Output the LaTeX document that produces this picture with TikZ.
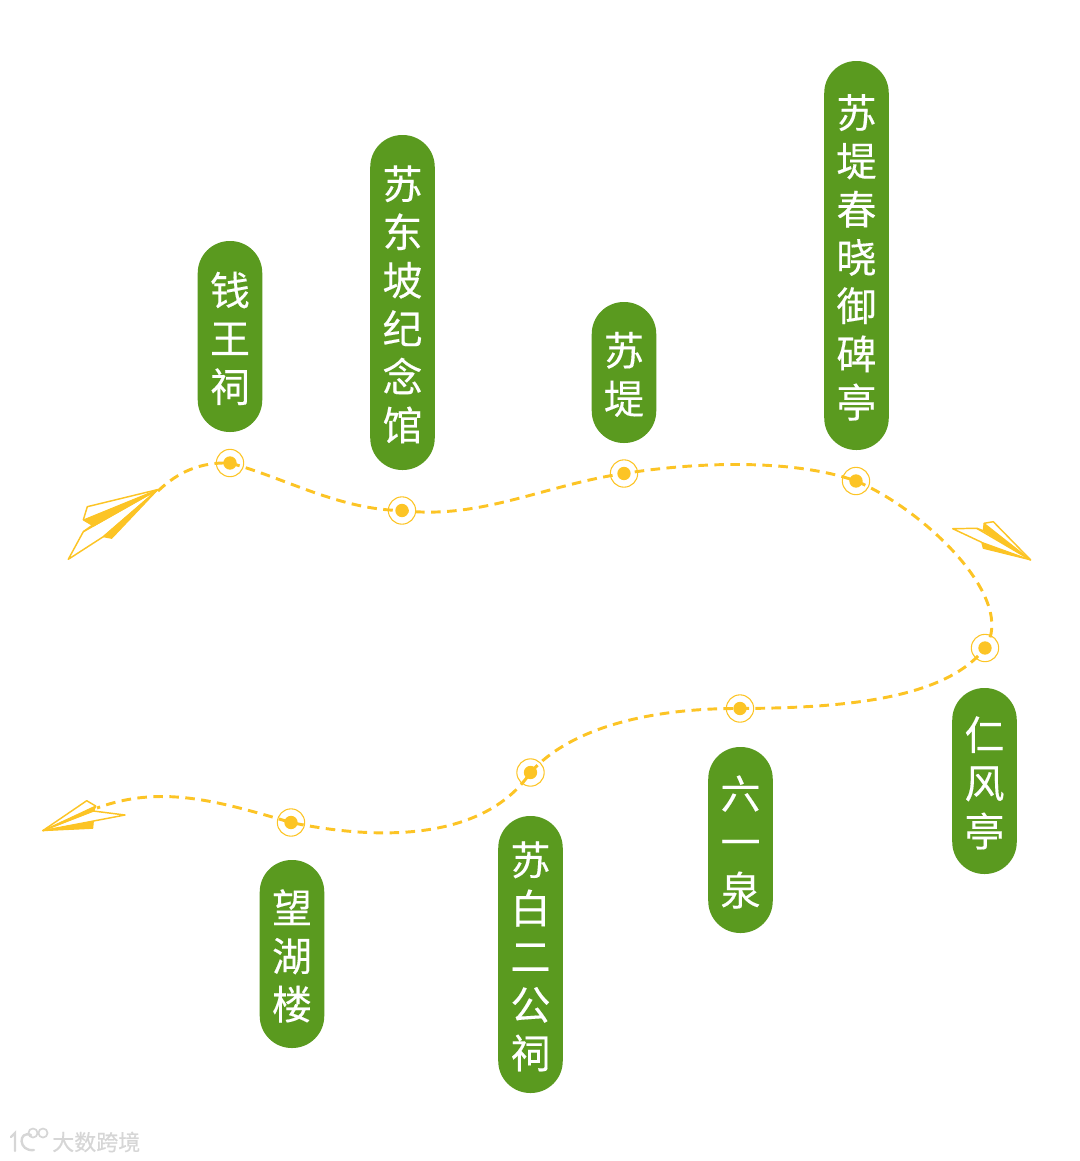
\documentclass[tikz,border=0pt]{standalone}
\usepackage{fontspec}
\newfontfamily\cjk[FakeBold=0.25]{Noto Sans CJK SC}
\newfontfamily\cjkplain[FakeBold=0.6]{Noto Sans CJK SC}
\definecolor{leaf}{HTML}{5A9A1F}
\definecolor{gold}{HTML}{FCC425}
\definecolor{wm}{HTML}{D6D6D6}
\newcommand{\lifttext}{\rule{0pt}{28pt}}
\tikzset{
  x=0.75pt,y=-0.75pt,
  pill/.style={fill=leaf,rounded corners=24pt,minimum width=48.4pt,inner sep=0pt,text=white,font=\cjk\fontsize{30pt}{36.2pt}\selectfont,align=center},
  marker/.style={circle,draw=gold,line width=0.8pt,minimum size=20.5pt,inner sep=0pt},
  dot/.style={circle,fill=gold,minimum size=10pt,inner sep=0pt},
  route/.style={draw=gold,line width=2.2pt,dash pattern=on 7.2pt off 4.8pt},
  wingline/.style={draw=gold,line width=1.1pt,line join=round},
  wingfill/.style={fill=gold,draw=gold,line width=0.8pt,line join=round},
  mark text/.style={text=wm,font=\cjkplain\fontsize{16.5pt}{18pt}\selectfont,inner sep=0pt}
}
\begin{document}
\begin{tikzpicture}
\useasboundingbox (0,0) rectangle (1080,1161);
% pills
\node[pill,minimum height=143.25pt] (p1) at (230,336.5) {\lifttext 钱\\王\\祠};
\node[pill,minimum height=251.25pt] (p2) at (402.5,302.5) {\lifttext 苏\\东\\坡\\纪\\念\\馆};
\node[pill,minimum height=105.75pt] (p3) at (624,372.5) {\lifttext 苏\\堤};
\node[pill,minimum height=291.75pt] (p4) at (856.5,255.5) {\lifttext 苏\\堤\\春\\晓\\御\\碑\\亭};
\node[pill,minimum height=139.5pt] (p5) at (984.5,781) {\lifttext 仁\\风\\亭};
\node[pill,minimum height=139.5pt] (p6) at (740.5,840) {\lifttext 六\\一\\泉};
\node[pill,minimum height=207.75pt] (p7) at (530.5,954.5) {\lifttext 苏\\白\\二\\公\\祠};
\node[pill,minimum height=141pt] (p8) at (292,954) {\lifttext 望\\湖\\楼};
% markers
\node[marker] (m1) at (230,463) {};
\node[marker] (m2) at (402,510.5) {};
\node[marker] (m3) at (624,473.5) {};
\node[marker] (m4) at (856,481) {};
\node[marker] (m5) at (985,648) {};
\node[marker] (m6) at (740,708.5) {};
\node[marker] (m7) at (530.5,772.5) {};
\node[marker] (m8) at (291,822.5) {};
\coordinate (s) at (158,491);
\coordinate (e) at (97,808);
% route
\path[route] (s) .. controls (178,472) and (200,462) .. (m1.center)
  .. controls (285,478) and (340,510) .. (m2.center)
  .. controls (480,520) and (545,485) .. (m3.center)
  .. controls (710,460) and (800,461) .. (m4.center)
  .. controls (925,510) and (1018,600) .. (m5.center)
  .. controls (945,700) and (840,708) .. (m6.center)
  .. controls (650,708) and (570,728) .. (m7.center)
  .. controls (490,832) and (400,845) .. (m8.center)
  .. controls (215,800) and (160,785) .. (e);
% marker dots
\node[dot] (d1) at (m1) {};
\node[dot] (d2) at (m2) {};
\node[dot] (d3) at (m3) {};
\node[dot] (d4) at (m4) {};
\node[dot] (d5) at (m5) {};
\node[dot] (d6) at (m6) {};
\node[dot] (d7) at (m7) {};
\node[dot] (d8) at (m8) {};
% plane 1
\path[wingfill] (83.3,520) -- (158,489.5) -- (93.5,526) -- cycle;
\path[wingfill] (103.3,536.7) -- (111.7,538.3) -- (158,489.5) -- cycle;
\path[wingline] (83.3,520) -- (87.3,506.7) -- (158,489.5) -- (83.3,531.7) -- (68.3,559.3) -- (103.3,536.7) -- (158,489.5);
\path[wingline] (92.7,525) -- (83.3,531.7);
% plane 2
\path[wingfill] (984,523.3) -- (983.3,530.7) -- (1030.7,560) -- cycle;
\path[wingfill] (981.7,542.3) -- (983.3,548.3) -- (1030.7,560) -- cycle;
\path[wingline] (984,523.3) -- (993.3,521.7) -- (1030.7,560);
\path[wingline] (983.3,530.7) -- (976.7,528.3) -- (952.7,528.7) -- (981.7,542.3);
\path[wingline] (976.7,528.3) -- (1030.7,560);
% plane 3
\path[wingfill] (42.7,830.7) -- (95.7,806) -- (93.3,811) -- cycle;
\path[wingfill] (42.7,830.7) -- (93.3,821.7) -- (92.7,828.3) -- cycle;
\path[wingline] (42.7,830.7) -- (86.7,800.7) -- (95.7,806) -- (93.3,811) -- (125,815) -- (42.7,830.7);
\path[wingline] (42.7,830.7) -- (93.3,811);
% watermark
\draw[wm,line width=1.8pt,line cap=round] (11,1137) -- (15,1133) -- (15,1151);
\draw[wm,line width=1.8pt,line cap=round] (31,1135) .. controls (18,1130) and (18,1152) .. (34,1150);
\draw[wm,line width=1.3pt] (33,1133) circle (3.4pt);
\draw[wm,line width=1.3pt] (43,1133) circle (3.4pt);
\node[mark text,anchor=west] (wmtext) at (52,1142) {大数跨境};
\end{tikzpicture}
\end{document}
